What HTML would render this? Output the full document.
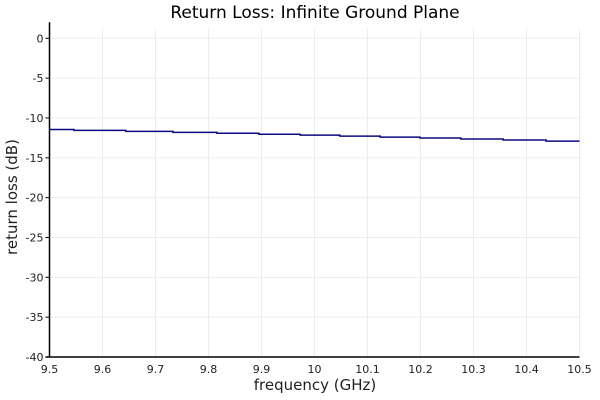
<!DOCTYPE html>
<html><head><meta charset="utf-8"><style>
body{margin:0;background:#fff;}
svg{display:block;font-family:"DejaVu Sans","Liberation Sans",sans-serif;}
</style></head><body>
<svg id="chart" width="600" height="400" xmlns="http://www.w3.org/2000/svg">
<text x="315" y="18" text-anchor="middle" font-size="17" fill="#000">Return Loss: Infinite Ground Plane</text>
<g id="grid"></g>
<g id="axes"></g>
<path id="line" fill="none" stroke="#0a0a80" stroke-width="1.5"/>
<text x="315" y="390" text-anchor="middle" font-size="15" fill="#222">frequency (GHz)</text>
<text transform="translate(17,197) rotate(-90)" text-anchor="middle" font-size="15" fill="#222">return loss (dB)</text>
</svg>
<script>
const freqs=[9.5,9.546,9.644,9.733,9.816,9.895,9.973,10.048,10.124,10.199,10.276,10.356,10.437,10.5];
const lossValues=[-11.44,-11.56,-11.68,-11.80,-11.92,-12.04,-12.16,-12.28,-12.40,-12.52,-12.64,-12.76,-12.90];
const xTicks=[9.5,9.6,9.7,9.8,9.9,10,10.1,10.2,10.3,10.4,10.5];
const yTicks=[0,-5,-10,-15,-20,-25,-30,-35,-40];
const NS="http://www.w3.org/2000/svg";
const X0=49.5,X1=579.5,Y0=357,Y1=38.3;
const x=v=>X0+(v-9.5)/1*(X1-X0);
const y=v=>Y0+(v+40)/40*(Y1-Y0);
const grid=document.getElementById('grid'),axes=document.getElementById('axes');
function mk(tag,attrs,parent,text){const e=document.createElementNS(NS,tag);for(const k in attrs)e.setAttribute(k,attrs[k]);if(text!==undefined)e.textContent=text;parent.appendChild(e);return e;}
xTicks.forEach(t=>{
  const g=mk('line',{x1:x(t),x2:x(t),y1:Y0,y2:Y1-10,stroke:'#ececec','stroke-width':1},grid);
  
  
  const l=mk('text',{x:x(t),y:Y0+16,'text-anchor':'middle','font-size':11,fill:'#222'},axes,String(t));
  
  
});
yTicks.forEach(t=>{
  const g=mk('line',{x1:X0,x2:X1,y1:y(t),y2:y(t),stroke:'#ececec','stroke-width':1},grid);
  
  
  const tk=mk('line',{x1:X0-4,x2:X0,y1:y(t),y2:y(t),stroke:'#000'},axes);
  
  
  const l=mk('text',{x:X0-6,y:y(t)+4,'text-anchor':'end','font-size':11,fill:'#222'},axes,String(t));
  
  
});
const ya=mk('line',{x1:X0,x2:X0,y1:Y0,y2:Y1-16,stroke:'#000','stroke-width':1.5},axes);


const xa=mk('line',{x1:X0-4,x2:X1,y1:Y0,y2:Y0,stroke:'#000','stroke-width':1.5},axes);


let d='';
lossValues.forEach((v,i)=>{d+=(i?'L':'M')+x(freqs[i])+','+y(v)+'L'+x(freqs[i+1])+','+y(v);});
document.getElementById('line').setAttribute('d',d);
</script>
</body></html>
